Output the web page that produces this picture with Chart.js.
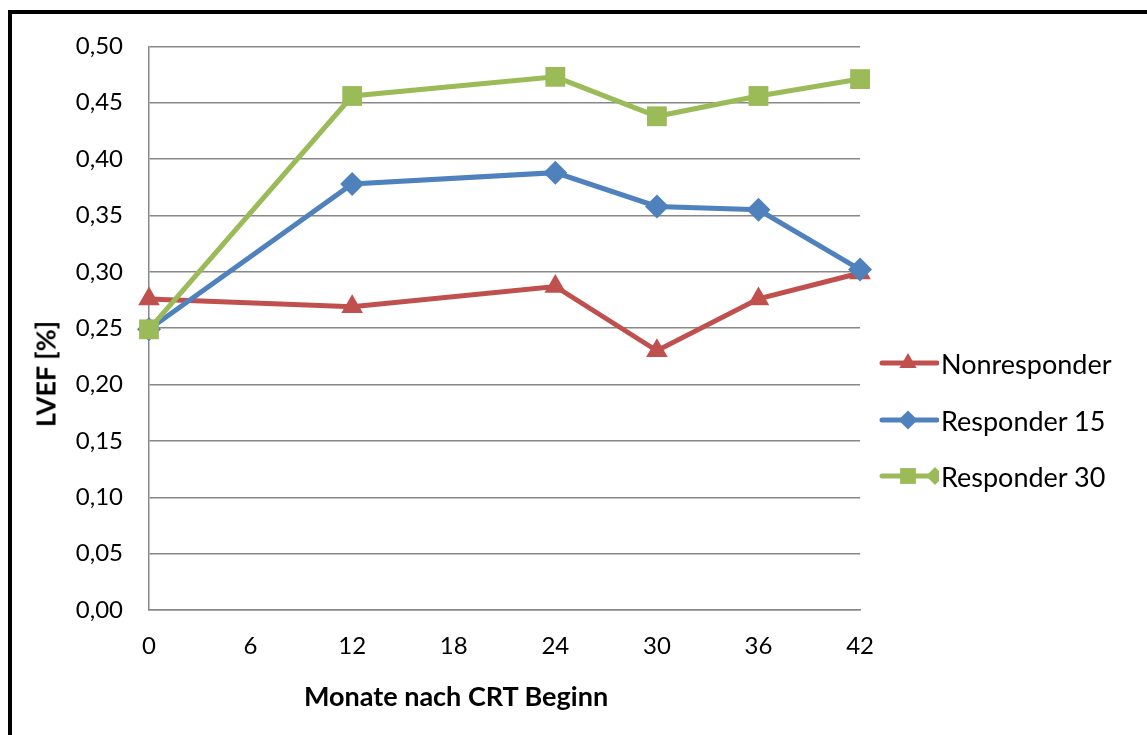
<!DOCTYPE html>
<html>
<head>
<meta charset="utf-8">
<script src="https://cdn.jsdelivr.net/npm/chart.js@4.4.1/dist/chart.umd.min.js"></script>
<style>
  body { margin: 0; background: #fff; width: 1147px; height: 735px; overflow: hidden; position: relative; font-family: Lato, "Open Sans", sans-serif; }
  #frame { position: absolute; left: 8px; top: 10px; width: 1200px; height: 800px; border-left: 4px solid #000; border-top: 4px solid #000; }
  #wrap { position: absolute; left: 12px; top: 6px; width: 884px; height: 729px; }
  #legend { position: absolute; left: 879px; top: 0; }
  .item { position: absolute; left: 0; height: 30px; display: flex; align-items: center; white-space: nowrap; font-size: 27px; color: #000; }
  .item canvas { margin-right: 2px; }
  .xtitle { position: absolute; left: 456px; top: 695px; transform: translate(-50%, -50%); font-weight: bold; font-size: 27px; white-space: nowrap; }
  .ytitle { position: absolute; left: 45px; top: 374px; transform: translate(-50%, -50%) rotate(-90deg); font-weight: bold; font-size: 27px; white-space: nowrap; }
</style>
</head>
<body>
<div id="frame"></div>
<div id="wrap"><canvas id="chart"></canvas></div>
<div class="xtitle">Monate nach CRT Beginn</div>
<div class="ytitle">LVEF [%]</div>
<div id="legend"></div>
<script>
const months = [0, 12, 24, 30, 36, 42];
const nonresponder = [0.276, 0.269, 0.287, 0.230, 0.276, 0.299];
const responder15 = [0.249, 0.378, 0.388, 0.358, 0.355, 0.302];
const responder30 = [0.249, 0.456, 0.473, 0.438, 0.456, 0.471];

const seriesNames = ['Nonresponder', 'Responder 15', 'Responder 30'];
const seriesColors = ['#C0504D', '#4F81BD', '#9BBB59'];
const seriesMarkers = ['triangle', 'rectRot', 'rect'];
const markerRadius = [12.5, 12, 14];
const seriesValues = [nonresponder, responder15, responder30];
const legendTops = [348, 405, 461];

const gridColor = '#888888';

const datasets = seriesValues.map((vals, i) => ({
  label: seriesNames[i],
  data: vals.map((v, j) => ({ x: months[j], y: v })),
  borderColor: seriesColors[i],
  backgroundColor: seriesColors[i],
  pointBackgroundColor: seriesColors[i],
  pointBorderColor: seriesColors[i],
  pointBorderWidth: 0,
  pointStyle: seriesMarkers[i],
  pointRadius: markerRadius[i],
  borderWidth: 5,
  tension: 0,
  clip: false,
  order: 2 - i
}));

new Chart(document.getElementById('chart'), {
  type: 'line',
  data: { datasets },
  options: {
    responsive: true,
    maintainAspectRatio: false,
    animation: false,
    layout: { autoPadding: false, padding: 0 },
    plugins: {
      legend: { display: false },
      tooltip: { enabled: false }
    },
    scales: {
      x: {
        type: 'linear',
        min: 0,
        max: 42,
        ticks: { stepSize: 6, padding: 22, color: '#000', font: { family: 'Lato', size: 24 } },
        grid: { display: false, drawTicks: false },
        border: { display: true, color: gridColor, width: 1.5 },
        afterFit: s => { s.height = 125; }
      },
      y: {
        min: 0,
        max: 0.5,
        ticks: {
          stepSize: 0.05,
          padding: 26,
          color: '#000',
          font: { family: 'Lato', size: 24 },
          callback: v => v.toFixed(2).replace('.', ',')
        },
        grid: { color: gridColor, lineWidth: 1.5, drawTicks: false },
        border: { display: true, color: gridColor, width: 1.5 },
        afterFit: s => { s.width = 137; }
      }
    }
  }
});

// legend with line + marker icons
const legend = document.getElementById('legend');
seriesNames.forEach((name, i) => {
  const row = document.createElement('div');
  row.className = 'item';
  row.style.top = legendTops[i] + 'px';
  const icon = document.createElement('canvas');
  icon.width = 60;
  icon.height = 30;
  const ctx = icon.getContext('2d');
  ctx.strokeStyle = seriesColors[i];
  ctx.lineWidth = 5;
  ctx.lineCap = 'round';
  ctx.beginPath();
  ctx.moveTo(3, 15);
  ctx.lineTo(58, 15);
  ctx.stroke();
  ctx.fillStyle = seriesColors[i];
  Chart.helpers.drawPoint(ctx, { pointStyle: seriesMarkers[i], radius: markerRadius[i] * 0.8, borderWidth: 0 }, 29, 15);
  if (i === 2) {
    Chart.helpers.drawPoint(ctx, { pointStyle: 'rectRot', radius: 9, borderWidth: 0 }, 56, 15);
  }
  row.appendChild(icon);
  const label = document.createElement('span');
  label.textContent = name;
  row.appendChild(label);
  legend.appendChild(row);
});
</script>
</body>
</html>
